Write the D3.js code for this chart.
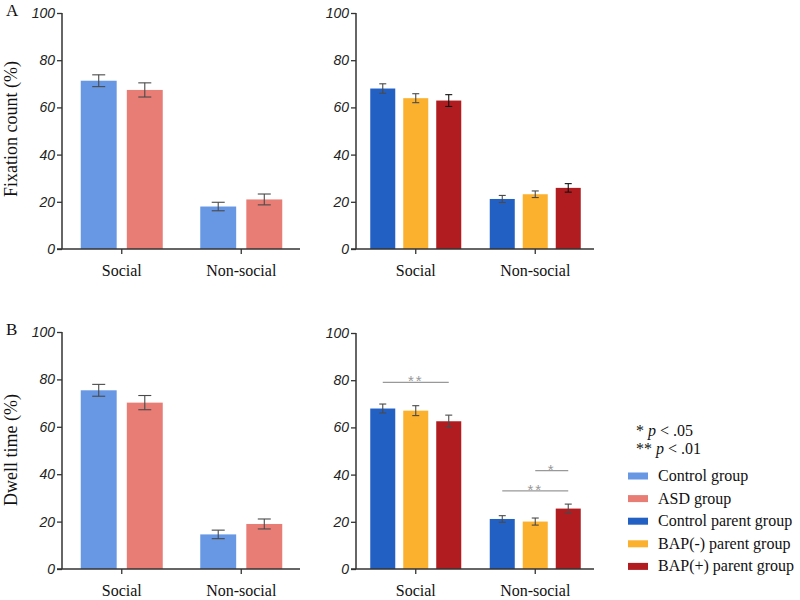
<!DOCTYPE html>
<html>
<head>
<meta charset="utf-8">
<script src="https://cdn.jsdelivr.net/npm/d3@7"></script>
<style>
  body { margin: 0; background: #fff; }
  svg { display: block; }
  .serif { font-family: "Liberation Serif", "Times New Roman", Times, serif; }
  .sans { font-family: "Liberation Sans", Arial, Helvetica, sans-serif; }
</style>
</head>
<body>
<svg id="chart" width="800" height="600"></svg>
<script>
// ---------- DATA ----------
const categories = ["Social", "Non-social"];
const childGroups = ["Control group", "ASD group"];
const parentGroups = ["Control parent group", "BAP(-) parent group", "BAP(+) parent group"];
const yTicks = [0, 20, 40, 60, 80, 100];

// Panel A (Fixation count %)
const fixChildMean = { "Control group": [71.3, 18.0], "ASD group": [67.4, 21.0] };
const fixChildErr  = { "Control group": [2.5, 1.8],  "ASD group": [3.0, 2.3] };
const fixParentMean = { "Control parent group": [68.0, 21.2], "BAP(-) parent group": [63.9, 23.2], "BAP(+) parent group": [62.9, 25.9] };
const fixParentErr  = { "Control parent group": [2.0, 1.5],  "BAP(-) parent group": [1.9, 1.4],  "BAP(+) parent group": [2.5, 1.8] };

// Panel B (Dwell time %)
const dwellChildMean = { "Control group": [75.4, 14.6], "ASD group": [70.2, 19.0] };
const dwellChildErr  = { "Control group": [2.5, 1.8],  "ASD group": [3.0, 2.1] };
const dwellParentMean = { "Control parent group": [68.0, 21.2], "BAP(-) parent group": [67.1, 20.1], "BAP(+) parent group": [62.6, 25.6] };
const dwellParentErr  = { "Control parent group": [1.9, 1.4],  "BAP(-) parent group": [2.1, 1.5],  "BAP(+) parent group": [2.6, 1.9] };

// Significance brackets (Dwell time, parents): category, from series, to series, level (%), label
const dwellParentSig = [
  { cat: "Social",     from: "Control parent group", to: "BAP(+) parent group", level: 79.1, label: "**" },
  { cat: "Non-social", from: "Control parent group", to: "BAP(+) parent group", level: 33.1, label: "**" },
  { cat: "Non-social", from: "BAP(-) parent group",  to: "BAP(+) parent group", level: 41.7, label: "*" }
];

const legendNotes = [["*", "p", " < .05"], ["**", "p", " < .01"]];
const legendItems = ["Control group", "ASD group", "Control parent group", "BAP(-) parent group", "BAP(+) parent group"];

// ---------- STYLE ----------
const colors = {
  "Control group": "#6898E4",
  "ASD group": "#E87D76",
  "Control parent group": "#2360C4",
  "BAP(-) parent group": "#FBB02E",
  "BAP(+) parent group": "#B01C1F"
};

const svg = d3.select("#chart");

function panel(opts) {
  const { x0, yTop, yBottom, series, mean, err, errColor, capHalf, innerHalf, innerPad, sig } = opts;
  const g = svg.append("g");
  const width = 238;
  const x = d3.scaleBand().domain(categories).range([x0, x0 + width + 1]).padding(0);
  const xs = d3.scaleBand().domain(series).range([-innerHalf, innerHalf]).paddingInner(innerPad);
  const y = d3.scaleLinear().domain([0, 100]).range([yBottom, yTop]);

  // bars
  const rows = [];
  categories.forEach((c, ci) => series.forEach(s => rows.push({ c, s, v: mean[s][ci], e: err[s][ci] })));
  g.selectAll("rect.bar").data(rows).enter().append("rect")
    .attr("class", "bar")
    .attr("x", d => x(d.c) + x.bandwidth() / 2 + xs(d.s))
    .attr("width", xs.bandwidth())
    .attr("y", d => y(d.v))
    .attr("height", d => y(0) - y(d.v))
    .attr("fill", d => colors[d.s]);

  // error bars
  const eg = g.selectAll("g.err").data(rows).enter().append("g")
    .attr("class", "err")
    .attr("stroke", d => (errColor[d.s] || "#4a4a4a"))
    .attr("stroke-width", 1.1);
  const cx = d => x(d.c) + x.bandwidth() / 2 + xs(d.s) + xs.bandwidth() / 2;
  eg.append("line").attr("x1", cx).attr("x2", cx).attr("y1", d => y(d.v + d.e)).attr("y2", d => y(d.v - d.e));
  eg.append("line").attr("x1", d => cx(d) - capHalf).attr("x2", d => cx(d) + capHalf).attr("y1", d => y(d.v + d.e)).attr("y2", d => y(d.v + d.e));
  eg.append("line").attr("x1", d => cx(d) - capHalf).attr("x2", d => cx(d) + capHalf).attr("y1", d => y(d.v - d.e)).attr("y2", d => y(d.v - d.e));

  // significance
  if (sig) {
    sig.forEach(s => {
      const xa = x(s.cat) + x.bandwidth() / 2 + xs(s.from) + xs.bandwidth() / 2;
      const xb = x(s.cat) + x.bandwidth() / 2 + xs(s.to) + xs.bandwidth() / 2;
      g.append("line").attr("x1", xa).attr("x2", xb).attr("y1", y(s.level)).attr("y2", y(s.level))
        .attr("stroke", "#999").attr("stroke-width", 1.3);
      g.append("text").attr("class", "sans").attr("x", (xa + xb) / 2).attr("y", y(s.level) + 4)
        .attr("text-anchor", "middle").attr("fill", "#999")
        .attr("font-size", 15).attr("letter-spacing", 2)
        .text(s.label);
    });
  }

  // y axis
  const ya = g.append("g").attr("transform", `translate(${x0},0)`)
    .call(d3.axisLeft(y).tickValues(yTicks).tickSize(5).tickPadding(2));
  ya.attr("font-family", null);
  ya.select(".domain").attr("stroke", "#333").attr("stroke-width", 1.5).attr("d", `M0,${yBottom}V${yTop}`);
  ya.selectAll(".tick line").attr("stroke", "#333").attr("stroke-width", 1.3);
  ya.selectAll(".tick text").attr("class", "sans").attr("font-style", "italic").attr("font-size", 14).attr("fill", "#222");

  // x axis
  const xa = g.append("g").attr("transform", `translate(0,${yBottom})`)
    .call(d3.axisBottom(x).tickSize(5).tickPadding(11));
  xa.attr("font-family", null);
  xa.select(".domain").attr("stroke", "#333").attr("stroke-width", 1.5).attr("d", `M${x0 - 5},0H${x0 + width}`);
  xa.selectAll(".tick line").attr("stroke", "#333").attr("stroke-width", 1.3);
  xa.selectAll(".tick text").attr("class", "serif").attr("font-size", 16).attr("fill", "#111");
}

const childStyle = { capHalf: 6.5, innerHalf: 41, innerPad: 0.22, errColor: {} };
const parentStyle = { capHalf: 3.5, innerHalf: 45.5, innerPad: 0.242 };

panel(Object.assign({ x0: 62, yTop: 13, yBottom: 249, series: childGroups, mean: fixChildMean, err: fixChildErr }, childStyle));
panel(Object.assign({ x0: 356, yTop: 13, yBottom: 249, series: parentGroups, mean: fixParentMean, err: fixParentErr,
  errColor: { "BAP(+) parent group": "#111" } }, parentStyle));
panel(Object.assign({ x0: 62, yTop: 332, yBottom: 569, series: childGroups, mean: dwellChildMean, err: dwellChildErr }, childStyle));
panel(Object.assign({ x0: 356, yTop: 333, yBottom: 569, series: parentGroups, mean: dwellParentMean, err: dwellParentErr,
  errColor: {}, sig: dwellParentSig }, parentStyle));

// y titles
svg.append("text").attr("class", "serif").attr("transform", "translate(17,129) rotate(-90)")
  .attr("text-anchor", "middle").attr("font-size", 18).attr("fill", "#111")
  .text("Fixation count (%)");
svg.append("text").attr("class", "serif").attr("transform", "translate(17,450) rotate(-90)")
  .attr("text-anchor", "middle").attr("font-size", 18).attr("fill", "#111")
  .text("Dwell time (%)");

// panel letters
svg.append("text").attr("class", "serif").attr("x", 6).attr("y", 16).attr("font-size", 17).attr("fill", "#111").text("A");
svg.append("text").attr("class", "serif").attr("x", 6).attr("y", 335).attr("font-size", 17).attr("fill", "#111").text("B");

// legend notes
legendNotes.forEach((n, i) => {
  const t = svg.append("text").attr("class", "serif").attr("x", 636).attr("y", 436 + i * 18)
    .attr("font-size", 16).attr("fill", "#111");
  t.append("tspan").text(n[0] + " ");
  t.append("tspan").attr("font-style", "italic").text(n[1]);
  t.append("tspan").text(n[2]);
});

// legend items
const lg = svg.append("g");
legendItems.forEach((s, i) => {
  const cy = 476 + i * 22.6;
  lg.append("rect").attr("x", 628).attr("y", cy - 3.5).attr("width", 20).attr("height", 7).attr("fill", colors[s]);
  lg.append("text").attr("class", "serif").attr("x", 658).attr("y", cy + 5).attr("font-size", 16).attr("fill", "#111").text(s);
});
</script>
</body>
</html>
